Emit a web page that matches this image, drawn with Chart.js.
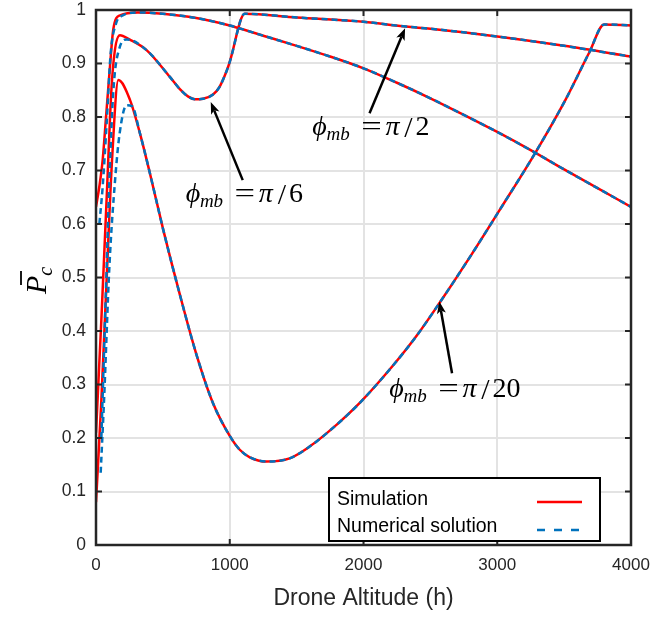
<!DOCTYPE html>
<html>
<head>
<meta charset="utf-8">
<script src="https://cdn.jsdelivr.net/npm/chart.js@4"></script>
<style>
  html, body { margin: 0; padding: 0; background: #fff; }
  #wrap { width: 653px; height: 618px; }
</style>
</head>
<body>
<div id="wrap"><canvas id="pc" width="653" height="618"></canvas></div>
<script>
// altitude / coverage values
const yTickLabels = ['0', '0.1', '0.2', '0.3', '0.4', '0.5', '0.6', '0.7', '0.8', '0.9', '1'];
const xTickLabels = ['0', '1000', '2000', '3000', '4000'];

// phi = pi/2 (wide beam)
const hA = [0, 25, 50, 75, 100, 130, 180, 313, 500, 750, 1000, 1250, 1500, 1750, 2000, 2250, 2500, 2750, 3000, 3250, 3500, 3750, 4000];
const simA = [0.632, 0.67, 0.72, 0.80, 0.88, 0.965, 0.99, 0.9955, 0.993, 0.985, 0.971, 0.952, 0.933, 0.913, 0.891, 0.864, 0.835, 0.804, 0.772, 0.738, 0.702, 0.667, 0.632];
const hA_num = [25, 50, 80, 110, 150, 200, 313, 500, 750, 1000, 1250, 1500, 1750, 2000, 2250, 2500, 2750, 3000, 3250, 3500, 3750, 4000];
const numA = [0.60, 0.67, 0.79, 0.92, 0.975, 0.99, 0.9955, 0.993, 0.985, 0.971, 0.952, 0.933, 0.913, 0.891, 0.864, 0.835, 0.804, 0.772, 0.738, 0.702, 0.667, 0.632];

// phi = pi/6
const hB = [0, 40, 80, 120, 179, 250, 378, 552, 627, 690, 739, 800, 875, 925, 975, 1000, 1112, 1500, 2000, 2318, 2500, 3015, 3500, 4000];
const simB = [0.21, 0.42, 0.65, 0.87, 0.953, 0.945, 0.925, 0.875, 0.852, 0.838, 0.833, 0.834, 0.842, 0.857, 0.885, 0.903, 0.993, 0.986, 0.978, 0.969, 0.965, 0.950, 0.933, 0.913];
const hB_num = [40, 70, 100, 130, 177, 230, 378, 552, 627, 690, 739, 800, 875, 925, 975, 1000, 1112, 1500, 2000, 2318, 2500, 3015, 3500, 4000];
const numB = [0.20, 0.44, 0.68, 0.85, 0.93, 0.945, 0.925, 0.875, 0.852, 0.838, 0.833, 0.834, 0.842, 0.857, 0.885, 0.903, 0.993, 0.986, 0.978, 0.969, 0.965, 0.950, 0.933, 0.913];

// phi = pi/20
const hC = [0, 40, 80, 120, 167, 254, 328, 403, 502, 627, 751, 875, 1000, 1075, 1150, 1274, 1448, 1597, 1800, 1970, 2219, 2400, 2567, 2800, 3015, 3289, 3512, 3687, 3800, 4000];
const simC = [0.08, 0.27, 0.50, 0.72, 0.869, 0.832, 0.77, 0.695, 0.59, 0.468, 0.356, 0.265, 0.204, 0.178, 0.164, 0.156, 0.162, 0.184, 0.225, 0.265, 0.335, 0.392, 0.452, 0.54, 0.625, 0.735, 0.833, 0.92, 0.973, 0.971];
const hC_num = [35, 60, 100, 142, 177, 229, 270, 328, 403, 502, 627, 751, 875, 1000, 1075, 1150, 1274, 1448, 1597, 1800, 1970, 2219, 2400, 2567, 2800, 3015, 3289, 3512, 3687, 3800, 4000];
const numC = [0.135, 0.27, 0.52, 0.68, 0.77, 0.822, 0.82, 0.77, 0.695, 0.59, 0.468, 0.356, 0.265, 0.204, 0.178, 0.164, 0.156, 0.162, 0.184, 0.225, 0.265, 0.335, 0.392, 0.452, 0.54, 0.625, 0.735, 0.833, 0.92, 0.973, 0.971];

// annotation labels (data coords): text start, arrow tail, arrow head
const notes = [
    { frac: '2',  tx: 1619, ty: 0.766, x1: 2045, y1: 0.807, x2: 2311, y2: 0.966 },
    { frac: '6',  tx: 672,  ty: 0.641, x1: 1097, y1: 0.682, x2: 858,  y2: 0.828 },
    { frac: '20', tx: 2194, ty: 0.277, x1: 2662, y1: 0.321, x2: 2567, y2: 0.455 }
];

const RED = '#ff0000';
const BLUE = '#0072bd';
const AXIS = '#262626';
const SANS = '"Liberation Sans", Arial, sans-serif';
const SERIF = '"Liberation Serif", "DejaVu Serif", serif';

function pts(xs, ys) {
    return xs.map((v, i) => ({ x: v, y: ys[i] }));
}

function simSet(xs, ys) {
    return { label: 'Simulation', data: pts(xs, ys), borderColor: RED, borderWidth: 2.5, fill: false };
}

function numSet(xs, ys) {
    return { label: 'Numerical solution', data: pts(xs, ys), borderColor: BLUE, borderWidth: 2.5, borderDash: [6, 4], fill: false };
}

// 矢印
function arrow(ctx, x1, y1, x2, y2) {
    const ang = Math.atan2(y2 - y1, x2 - x1);
    const len = 12, half = 4.5;
    const bx = x2 - len * Math.cos(ang), by = y2 - len * Math.sin(ang);
    ctx.beginPath();
    ctx.moveTo(x1, y1);
    ctx.lineTo(bx + 3 * Math.cos(ang), by + 3 * Math.sin(ang));
    ctx.stroke();
    ctx.beginPath();
    ctx.moveTo(x2, y2);
    ctx.lineTo(bx - half * Math.sin(ang), by + half * Math.cos(ang));
    ctx.lineTo(bx + 3 * Math.cos(ang), by + 3 * Math.sin(ang));
    ctx.lineTo(bx + half * Math.sin(ang), by - half * Math.cos(ang));
    ctx.closePath();
    ctx.fill();
}

function centered(ctx, s, cx, y) {
    const w = ctx.measureText(s).width;
    ctx.fillText(s, cx - w / 2, y);
}

// "phi_mb = pi/N"
function phiLabel(ctx, x, y, frac) {
    ctx.textAlign = 'left';
    ctx.textBaseline = 'alphabetic';
    ctx.font = 'italic 28px ' + SERIF;
    centered(ctx, '\u03D5', x + 7, y);
    ctx.font = 'italic 19px ' + SERIF;
    ctx.fillText('mb', x + 14, y + 5);
    ctx.font = '28px ' + SERIF;
    ctx.save();
    ctx.translate(x + 59, y);
    ctx.scale(1.3, 1);
    centered(ctx, '=', 0, 0);
    ctx.restore();
    ctx.font = 'italic 28px ' + SERIF;
    centered(ctx, '\u03C0', x + 80, y);
    ctx.font = '30px ' + SERIF;
    centered(ctx, '/', x + 96, y + 2);
    ctx.font = '28px ' + SERIF;
    ctx.fillText(frac, x + 103, y);
}

const overlay = {
    id: 'overlay',
    afterDraw(chart) {
        const { ctx, chartArea: a, scales: { x, y } } = chart;
        ctx.save();

        // tick labels
        ctx.fillStyle = AXIS;
        ctx.font = '17.5px ' + SANS;
        ctx.textAlign = 'right';
        ctx.textBaseline = 'middle';
        yTickLabels.forEach((t, i) => ctx.fillText(t, a.left - 10, y.getPixelForValue(i / 10)));
        ctx.font = '17px ' + SANS;
        ctx.textAlign = 'center';
        ctx.textBaseline = 'top';
        xTickLabels.forEach((t, i) => ctx.fillText(t, x.getPixelForValue(i * 1000), a.bottom + 12));

        // axes box + inward ticks
        ctx.strokeStyle = AXIS;
        ctx.lineWidth = 2.5;
        ctx.strokeRect(a.left, a.top, a.right - a.left, a.bottom - a.top);
        ctx.lineWidth = 2;
        ctx.beginPath();
        for (let i = 0; i < xTickLabels.length; i++) {
            const px = x.getPixelForValue(i * 1000);
            ctx.moveTo(px, a.bottom); ctx.lineTo(px, a.bottom - 6);
            ctx.moveTo(px, a.top); ctx.lineTo(px, a.top + 6);
        }
        for (let i = 0; i < yTickLabels.length; i++) {
            const py = y.getPixelForValue(i / 10);
            ctx.moveTo(a.left, py); ctx.lineTo(a.left + 6, py);
            ctx.moveTo(a.right, py); ctx.lineTo(a.right - 6, py);
        }
        ctx.stroke();

        // annotations
        ctx.fillStyle = '#000';
        ctx.strokeStyle = '#000';
        ctx.lineWidth = 2.5;
        notes.forEach(n => {
            arrow(ctx, x.getPixelForValue(n.x1), y.getPixelForValue(n.y1),
                x.getPixelForValue(n.x2), y.getPixelForValue(n.y2));
            phiLabel(ctx, x.getPixelForValue(n.tx), y.getPixelForValue(n.ty), n.frac);
        });

        // legend
        const lx = a.right - 302, ly = a.bottom - 67, lw = 271, lh = 63;
        ctx.fillStyle = '#fff';
        ctx.fillRect(lx, ly, lw, lh);
        ctx.strokeStyle = '#000';
        ctx.lineWidth = 2;
        ctx.strokeRect(lx, ly, lw, lh);
        ctx.fillStyle = '#000';
        ctx.font = '19.5px ' + SANS;
        ctx.textAlign = 'left';
        ctx.textBaseline = 'middle';
        ctx.fillText('Simulation', lx + 8, ly + 22);
        ctx.fillText('Numerical solution', lx + 8, ly + 49);
        ctx.lineWidth = 2.5;
        ctx.strokeStyle = RED;
        ctx.beginPath(); ctx.moveTo(lx + 208, ly + 24); ctx.lineTo(lx + 253, ly + 24); ctx.stroke();
        ctx.strokeStyle = BLUE;
        ctx.setLineDash([8, 9]);
        ctx.beginPath(); ctx.moveTo(lx + 208, ly + 52); ctx.lineTo(lx + 253, ly + 52); ctx.stroke();
        ctx.setLineDash([]);

        // y label: P-bar sub c, rotated
        ctx.translate(46, 296);
        ctx.rotate(-Math.PI / 2);
        ctx.fillStyle = '#000';
        ctx.textBaseline = 'alphabetic';
        ctx.font = 'italic 30px ' + SERIF;
        ctx.fillText('P', 2, 0);
        const pw = ctx.measureText('P').width;
        ctx.font = 'italic 20px ' + SERIF;
        ctx.fillText('c', pw + 2, 6);
        ctx.lineWidth = 1.8;
        ctx.strokeStyle = '#000';
        ctx.beginPath(); ctx.moveTo(11, -25); ctx.lineTo(25, -25); ctx.stroke();

        ctx.restore();
    }
};

const chart = new Chart(document.getElementById('pc').getContext('2d'), {
    type: 'line',
    data: {
        datasets: [
            numSet(hA_num, numA), numSet(hB_num, numB), numSet(hC_num, numC),
            simSet(hA, simA), simSet(hB, simB), simSet(hC, simC)
        ]
    },
    options: {
        responsive: false,
        animation: false,
        layout: { padding: { left: 0, right: 22, top: 10, bottom: 0 } },
        elements: {
            point: { radius: 0 },
            line: { cubicInterpolationMode: 'monotone' }
        },
        plugins: {
            legend: { display: false },
            tooltip: { enabled: false }
        },
        scales: {
            x: {
                type: 'linear',
                min: 0, max: 4000,
                afterFit: s => { s.height = 73; },
                grid: { color: '#e3e3e3', lineWidth: 2, drawTicks: false },
                border: { display: false },
                ticks: { stepSize: 1000, display: false },
                title: {
                    display: true,
                    text: 'Drone Altitude (h)',
                    color: AXIS,
                    padding: { top: 0, bottom: 6 },
                    font: { family: SANS, size: 23 }
                }
            },
            y: {
                min: 0, max: 1,
                afterFit: s => { s.width = 96; },
                grid: { color: '#e3e3e3', lineWidth: 2, drawTicks: false },
                border: { display: false },
                ticks: { stepSize: 0.1, display: false }
            }
        }
    },
    plugins: [overlay]
});
</script>
</body>
</html>
